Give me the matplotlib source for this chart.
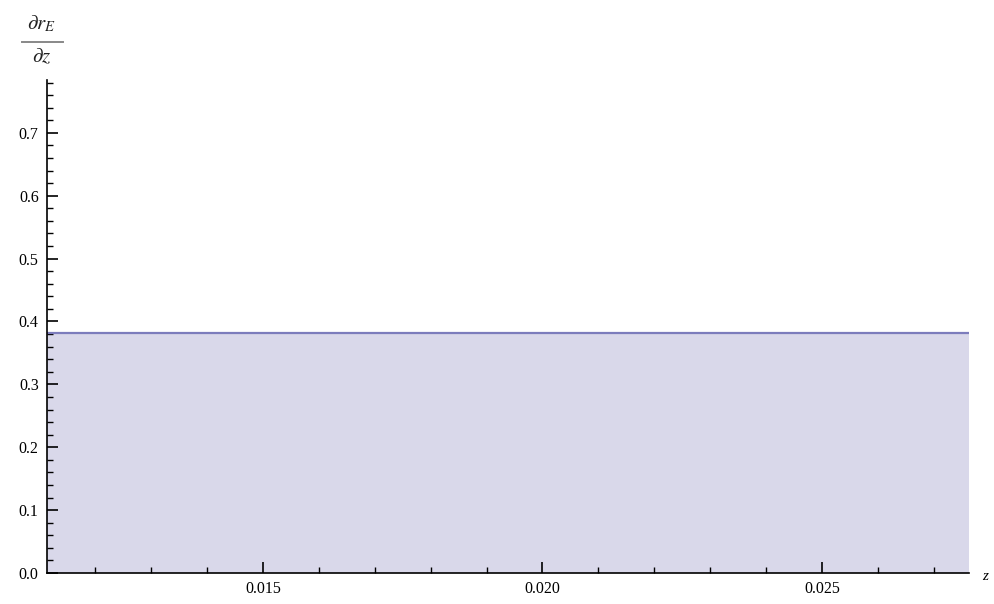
import matplotlib.pyplot as plt
from matplotlib.lines import Line2D
from matplotlib.ticker import MultipleLocator, FormatStrFormatter

plt.rcParams['font.family'] = ['Liberation Serif', 'DejaVu Serif']
plt.rcParams['mathtext.fontset'] = 'stix'

# data
z = [0.01114, 0.02763]
dr_dz = [0.381, 0.381]
x_ticks = [0.015, 0.020, 0.025]
y_ticks = [0.0, 0.1, 0.2, 0.3, 0.4, 0.5, 0.6, 0.7]


def main():
    fig = plt.figure(figsize=(9.94, 6.04), dpi=100)
    ax = fig.add_axes([0.0473, 0.0513, 0.9276, 0.8162])

    ax.fill_between(z, 0, dr_dz, color='#d9d8ea', lw=0)
    ax.plot(z, dr_dz, color='#7c7cbc', lw=1.6)

    ax.set_xlim(z[0], z[1])
    ax.set_ylim(0, 0.784)

    for s in ['top', 'right']:
        ax.spines[s].set_visible(False)
    for s in ['left', 'bottom']:
        ax.spines[s].set_linewidth(1.2)

    ax.set_xticks(x_ticks)
    ax.set_yticks(y_ticks)
    ax.xaxis.set_major_formatter(FormatStrFormatter('%.3f'))
    ax.yaxis.set_major_formatter(FormatStrFormatter('%.1f'))
    ax.xaxis.set_minor_locator(MultipleLocator(0.001))
    ax.yaxis.set_minor_locator(MultipleLocator(0.02))
    ax.tick_params(which='major', direction='in', length=8, width=1.2,
                   labelsize=11.5, pad=6)
    ax.tick_params(which='minor', direction='in', length=4, width=1.0)

    # axis label z at the right end
    fig.text(0.991, 0.045, 'z', fontsize=11, style='italic',
             ha='center', va='center')

    # fraction label at the top of the y axis
    fig.text(42 / 994, 1 - 24 / 604, r'$\partial r_E$', fontsize=15,
             ha='center', va='center', color='#222222')
    fig.add_artist(Line2D([22 / 994, 63 / 994], [1 - 42 / 604, 1 - 42 / 604],
                          color='#888888', lw=1.4))
    fig.text(42 / 994, 1 - 58 / 604, r'$\partial z$', fontsize=15,
             ha='center', va='center', color='#222222')

    fig.savefig('out.png', dpi=100)


if __name__ == "__main__":
    main()
